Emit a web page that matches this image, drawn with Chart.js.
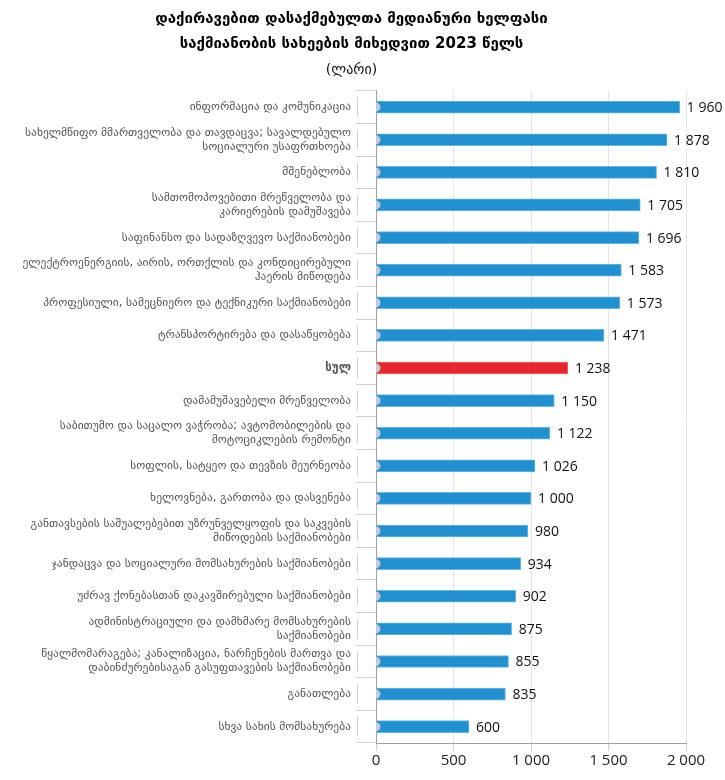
<!DOCTYPE html>
<html>
<head>
<meta charset="utf-8">
<script src="https://cdn.jsdelivr.net/npm/chart.js@4.4.1/dist/chart.umd.min.js"></script>
<style>
  html, body { margin: 0; padding: 0; background: #fff; }
  #wrap { width: 725px; height: 780px; position: relative; }
</style>
</head>
<body>
<div id="wrap"><canvas id="wageChart"></canvas></div>
<script>
const TITLE_LINES = [
  "დაქირავებით დასაქმებულთა მედიანური ხელფასი",
  "საქმიანობის სახეების მიხედვით 2023 წელს"
];
const SUBTITLE = "(ლარი)";

const CATEGORIES = [
  ["ინფორმაცია და კომუნიკაცია"],
  ["სახელმწიფო მმართველობა და თავდაცვა; სავალდებულო", "სოციალური უსაფრთხოება"],
  ["მშენებლობა"],
  ["სამთომოპოვებითი მრეწველობა და", "კარიერების დამუშავება"],
  ["საფინანსო და სადაზღვევო საქმიანობები"],
  ["ელექტროენერგიის, აირის, ორთქლის და კონდიცირებული", "ჰაერის მიწოდება"],
  ["პროფესიული, სამეცნიერო და ტექნიკური საქმიანობები"],
  ["ტრანსპორტირება და დასაწყობება"],
  ["სულ"],
  ["დამამუშავებელი მრეწველობა"],
  ["საბითუმო და საცალო ვაჭრობა; ავტომობილების და", "მოტოციკლების რემონტი"],
  ["სოფლის, სატყეო და თევზის მეურნეობა"],
  ["ხელოვნება, გართობა და დასვენება"],
  ["განთავსების საშუალებებით უზრუნველყოფის და საკვების", "მიწოდების საქმიანობები"],
  ["ჯანდაცვა და სოციალური მომსახურების საქმიანობები"],
  ["უძრავ ქონებასთან დაკავშირებული საქმიანობები"],
  ["ადმინისტრაციული და დამხმარე მომსახურების", "საქმიანობები"],
  ["წყალმომარაგება; კანალიზაცია, ნარჩენების მართვა და", "დაბინძურებისაგან გასუფთავების საქმიანობები"],
  ["განათლება"],
  ["სხვა სახის მომსახურება"]
];

const MEDIAN_WAGE = [1960, 1878, 1810, 1705, 1696, 1583, 1573, 1471, 1238, 1150,
                     1122, 1026, 1000, 980, 934, 902, 875, 855, 835, 600];

const BASE_DOTS = new Array(CATEGORIES.length).fill(0);

const X_TICKS = [0, 500, 1000, 1500, 2000];
const TOTAL_LABEL = "სულ";

const BLUE = "#2190d0";
const RED = "#e8262c";

function formatNumber(n) {
  return String(n).replace(/\B(?=(\d{3})+(?!\d))/g, " ");
}

function isTotal(i) {
  return CATEGORIES[i][0] === TOTAL_LABEL;
}

// value labels right of each bar + the little tick caps on the y axis
const barExtras = {
  id: "barExtras",
  afterDatasetsDraw(chart) {
    const ctx = chart.ctx;
    const meta = chart.getDatasetMeta(0);
    ctx.save();
    ctx.textBaseline = "middle";
    ctx.textAlign = "left";
    ctx.font = "14px 'Open Sans', sans-serif";
    ctx.fillStyle = "#111";
    meta.data.forEach((bar, i) => {
      ctx.fillText(formatNumber(MEDIAN_WAGE[i]), bar.x + 7, bar.y + 1);
    });
    const yScale = chart.scales.y;
    const capX = yScale.right - 19;
    ctx.strokeStyle = "#d0d0d0";
    ctx.lineWidth = 1;
    CATEGORIES.forEach((c, i) => {
      const y = yScale.getPixelForValue(i);
      ctx.beginPath();
      ctx.moveTo(capX + 0.5, y - 10);
      ctx.lineTo(capX + 0.5, y + 10);
      ctx.stroke();
    });
    ctx.restore();
  }
};

new Chart(document.getElementById("wageChart"), {
  type: "bar",
  data: {
    labels: CATEGORIES,
    datasets: [
      {
        label: "median",
        data: MEDIAN_WAGE,
        backgroundColor: MEDIAN_WAGE.map((v, i) => isTotal(i) ? RED : BLUE),
        borderColor: MEDIAN_WAGE.map((v, i) => isTotal(i) ? "#f0686b" : "#6cb6e3"),
        borderWidth: 1,
        borderSkipped: "left",
        barThickness: 12,
        order: 2
      },
      {
        type: "line",
        label: "base",
        data: BASE_DOTS,
        showLine: false,
        pointRadius: 4.5,
        pointHoverRadius: 4.5,
        pointBorderWidth: 0,
        pointBackgroundColor: "#c3cad4",
        order: 1
      }
    ]
  },
  options: {
    indexAxis: "y",
    responsive: true,
    maintainAspectRatio: false,
    animation: false,
    layout: { padding: { left: 17, right: 39, top: 0, bottom: 9 } },
    plugins: {
      legend: { display: false },
      tooltip: { enabled: false },
      title: {
        display: true,
        text: TITLE_LINES,
        color: "#000",
        font: { family: "'DejaVu Sans', sans-serif", size: 15, weight: "bold", lineHeight: 1.7 },
        padding: { top: 6, bottom: 0 }
      },
      subtitle: {
        display: true,
        text: SUBTITLE,
        color: "#111",
        font: { family: "'DejaVu Sans', sans-serif", size: 14 },
        padding: { top: 5, bottom: 12 }
      }
    },
    scales: {
      x: {
        min: 0,
        max: 2000,
        afterBuildTicks: (scale) => { scale.ticks = X_TICKS.map(v => ({ value: v })); },
        ticks: {
          color: "#222",
          font: { family: "'Open Sans', sans-serif", size: 15 },
          padding: 1,
          callback: (v) => formatNumber(v)
        },
        grid: { color: "#e3e3e3", tickLength: 8, tickColor: "#d0d0d0" },
        border: { color: "#a0a0a0" }
      },
      y: {
        afterFit: (scale) => { scale.width = 359; },
        ticks: {
          color: "#555",
          font: (ctx) => ({
            family: "'DejaVu Sans', sans-serif",
            size: 11.5,
            lineHeight: 1.22,
            weight: ctx.index !== undefined && isTotal(ctx.index) ? "bold" : "normal"
          }),
          padding: 5,
          autoSkip: false
        },
        grid: { drawOnChartArea: false, tickLength: 20, color: "#d0d0d0" },
        border: { color: "#a0a0a0" }
      }
    }
  },
  plugins: [barExtras]
});
</script>
</body>
</html>
